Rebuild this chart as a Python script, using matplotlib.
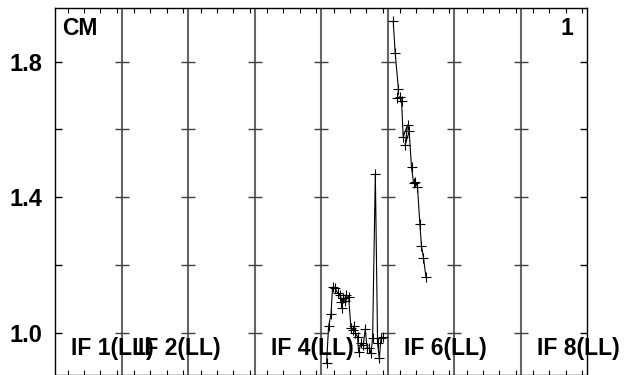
import matplotlib
matplotlib.use("Agg")
import matplotlib.pyplot as plt

plt.rcParams["font.family"] = ["Liberation Sans", "DejaVu Sans"]
plt.rcParams["font.weight"] = "bold"

# 8 IF panels, each spans one unit on x (local time fraction 0..1)
N_PANELS = 8
PANEL_LABELS = {0: "IF 1(LL)", 1: "IF 2(LL)", 3: "IF 4(LL)", 5: "IF 6(LL)", 7: "IF 8(LL)"}
TIME_TICKS = [0.19, 0.435, 0.68, 0.925]   # per-panel minor time ticks
Y_TICKS = [1.0, 1.2, 1.4, 1.6, 1.8]
Y_LABELS = ["1.0", "", "1.4", "", "1.8"]

# IF 5 (panel index 4)
if5_t = [0.084, 0.114, 0.150, 0.174, 0.215, 0.250, 0.286, 0.301, 0.316, 0.325,
         0.365, 0.376, 0.415, 0.451, 0.475, 0.501, 0.516, 0.550, 0.565, 0.602,
         0.636, 0.666, 0.692, 0.726, 0.752, 0.776, 0.817, 0.851, 0.877, 0.902, 0.926]
if5_v = [0.911, 1.019, 1.055, 1.135, 1.132, 1.117, 1.112, 1.092, 1.073, 1.102,
         1.095, 1.112, 1.107, 1.014, 1.009, 1.019, 0.999, 0.989, 0.945, 0.970,
         0.965, 1.011, 0.955, 0.955, 0.940, 0.984, 1.470, 0.970, 0.925, 0.984, 0.987]

# IF 6 (panel index 5)
if6_t = [0.086, 0.116, 0.165, 0.150, 0.186, 0.211, 0.236, 0.301, 0.266, 0.326,
         0.361, 0.391, 0.417, 0.451, 0.487, 0.511, 0.541, 0.577]
if6_v = [1.919, 1.824, 1.718, 1.693, 1.696, 1.684, 1.578, 1.613, 1.554, 1.595,
         1.488, 1.443, 1.446, 1.431, 1.320, 1.256, 1.222, 1.166]

YMIN, YMAX = 0.876, 1.958

fig = plt.figure(figsize=(6.25, 3.75), dpi=100)
ax = fig.add_axes([55 / 625, 0.0, 532 / 625, 1 - 8 / 375])
ax.set_xlim(0, N_PANELS)
ax.set_ylim(YMIN, YMAX)

for sp in ax.spines.values():
    sp.set_linewidth(1.0)
    sp.set_color("black")

# panel separators with cross ticks
tick_half = 7 / 66.5
for i in range(1, N_PANELS):
    ax.axvline(i, color="0.4", lw=1.5, zorder=1)
    ax.hlines(Y_TICKS, i - tick_half, i + tick_half, color="0.25", lw=1.0, zorder=1)

ax.set_yticks(Y_TICKS)
ax.set_yticklabels(Y_LABELS, fontsize=17, fontweight="bold")
ax.tick_params(axis="y", direction="in", length=5, width=1.0, right=True, pad=9)

ax.set_xticks([i + t for i in range(N_PANELS) for t in TIME_TICKS])
ax.set_xticklabels([])
ax.tick_params(axis="x", direction="in", length=3.6, width=0.8, top=True)

ax.plot([4 + t for t in if5_t], if5_v, color="black", lw=0.8,
        marker="+", ms=7, mew=0.8, zorder=3)
ax.plot([5 + t for t in if6_t], if6_v, color="black", lw=0.8,
        marker="+", ms=7, mew=0.8, zorder=3)

for i, lab in PANEL_LABELS.items():
    ax.text(i + 0.245, 0.935, lab, fontsize=16.5, fontweight="bold",
            ha="left", va="baseline", clip_on=False, zorder=4)

ax.text(0.1, 1.879, "CM", fontsize=16.5, fontweight="bold", ha="left", va="baseline")
ax.text(7.6, 1.879, "1", fontsize=16.5, fontweight="bold", ha="left", va="baseline")

fig.savefig("out.png", dpi=100)
